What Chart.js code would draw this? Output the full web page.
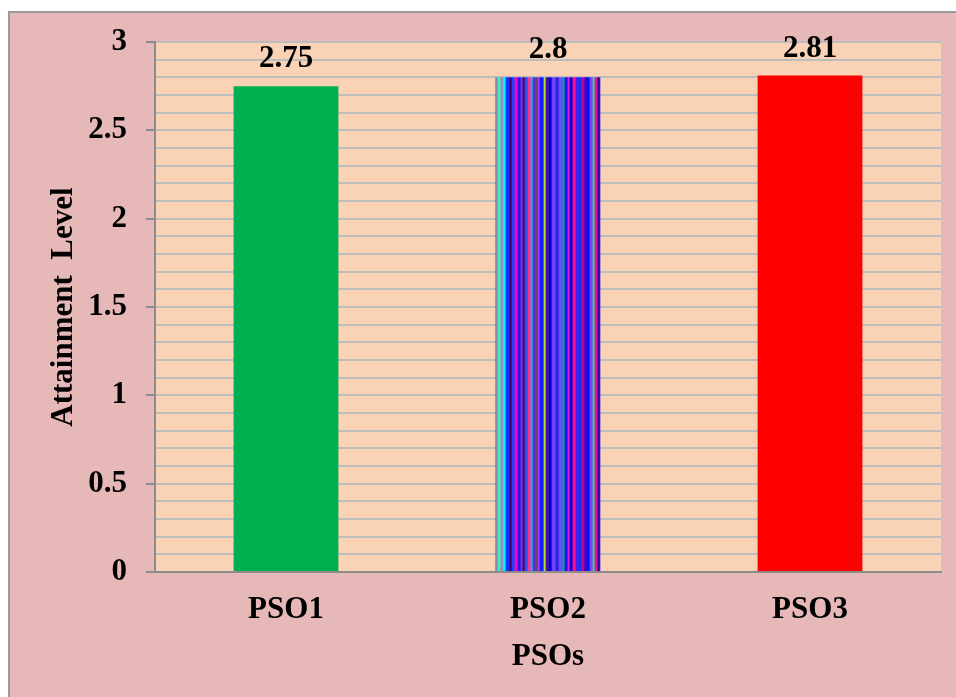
<!DOCTYPE html>
<html>
<head>
<meta charset="utf-8">
<script src="https://cdn.jsdelivr.net/npm/chart.js@4.4.1/dist/chart.umd.min.js"></script>
<style>
  html, body { margin: 0; padding: 0; background: #ffffff; }
  #wrap { width: 956px; height: 697px; }
</style>
</head>
<body>
<div id="wrap"><canvas id="c" width="956" height="697"></canvas></div>
<script>
// ---- data ----
const categories = ['PSO1', 'PSO2', 'PSO3'];
const attainment = [2.75, 2.8, 2.81];
const yMin = 0;
const yMax = 3;
const yMinorStep = 0.1;
const yMajorStep = 0.5;
const xTitle = 'PSOs';
const yTitle = 'Attainment  Level';

// ---- styles ----
const FONT = "'Liberation Serif', 'Times New Roman', serif";
const FSIZE = 31;
const stripeColors = [
  ['#9080c0',2],['#40f0a0',3],['#e060c0',2],['#00f0ff',3],['#1030ff',4],['#400060',2],
  ['#2040ff',3],['#ff00c0',3],['#1818e8',3],['#8030ff',2],['#600030',2],['#2050ff',3],
  ['#ff3090',3],['#20b0f0',2],['#6030d0',3],['#505060',2],['#b030ff',2],['#1020ff',4],
  ['#b0e030',2],['#5010a0',3],['#0000d0',3],['#7040ff',4],['#3020e0',3],['#6050f0',4],
  ['#00a0a0',2],['#2010ff',3],['#e020c0',2],['#1000e0',3],['#ff1080',3],['#4020f0',3],
  ['#1030ff',3],['#c01080',2],['#5000c0',3],['#0010ff',3],['#8040ff',3],['#20e080',2],
  ['#ff00a0',3],['#200090',2],['#5030ff',3],['#000050',2]
];
function makeStripes() {
  const w = stripeColors.reduce((s, c) => s + c[1], 0);
  const cv = document.createElement('canvas');
  cv.width = w; cv.height = 4;
  const cx = cv.getContext('2d');
  let x = 0;
  stripeColors.forEach(([col, sw]) => { cx.fillStyle = col; cx.fillRect(x, 0, sw, 4); x += sw; });
  return document.getElementById('c').getContext('2d').createPattern(cv, 'repeat');
}
const stripePattern = makeStripes();
const barColors = ['#00B050', stripePattern, '#FF0000'];

const isMajor = v => Math.abs(v / yMajorStep - Math.round(v / yMajorStep)) < 1e-6;

const bgPlugin = {
  id: 'bg',
  beforeDraw(chart) {
    const {ctx, width, height, chartArea: a} = chart;
    ctx.save();
    ctx.fillStyle = '#ffffff';
    ctx.fillRect(0, 0, width, height);
    ctx.fillStyle = '#E6B9B8';
    ctx.fillRect(8, 11, width - 8, height - 11);
    ctx.strokeStyle = '#9a9a9a';
    ctx.lineWidth = 2;
    ctx.beginPath();
    ctx.moveTo(9, height); ctx.lineTo(9, 12); ctx.lineTo(width, 12);
    ctx.stroke();
    ctx.fillStyle = '#FAD2B6';
    ctx.fillRect(a.left, a.top, a.right - a.left, a.bottom - a.top);
    ctx.restore();
  },
  beforeDatasetsDraw(chart) {
    const el = chart.getDatasetMeta(0).data[1];
    if (el && stripePattern.setTransform) {
      stripePattern.setTransform(new DOMMatrix().translate(el.x - el.width / 2, 0));
    }
  }
};

const valueLabels = {
  id: 'valueLabels',
  afterDatasetsDraw(chart) {
    const {ctx} = chart;
    const meta = chart.getDatasetMeta(0);
    ctx.save();
    ctx.font = 'bold ' + FSIZE + 'px ' + FONT;
    ctx.fillStyle = '#000000';
    ctx.textAlign = 'center';
    ctx.textBaseline = 'alphabetic';
    meta.data.forEach((el, i) => {
      ctx.fillText(String(attainment[i]), el.x, el.y - 19);
    });
    ctx.restore();
  }
};

new Chart(document.getElementById('c'), {
  type: 'bar',
  data: {
    labels: categories,
    datasets: [{
      data: attainment,
      backgroundColor: barColors,
      borderWidth: 0,
      barPercentage: 0.4,
      categoryPercentage: 1.0
    }]
  },
  options: {
    responsive: false,
    devicePixelRatio: 1,
    animation: false,
    layout: { padding: { left: 0, top: 42, right: 15, bottom: 0 } },
    plugins: { legend: { display: false }, tooltip: { enabled: false } },
    scales: {
      x: {
        grid: { display: false, drawTicks: false },
        border: { display: true, color: '#8c8c8c', width: 2 },
        ticks: { color: '#000', padding: 19, font: { family: FONT, size: FSIZE, weight: 'bold' } },
        title: { display: true, text: xTitle, color: '#000',
                 font: { family: FONT, size: FSIZE, weight: 'bold' }, padding: { top: 0, bottom: 21 } },
        afterFit(s) { s.height = 125; }
      },
      y: {
        min: yMin, max: yMax,
        grid: {
          color: ctx => (ctx.tick && Math.abs(ctx.tick.value) < 1e-9) ? 'rgba(0,0,0,0)' : '#BDBDBD',
          lineWidth: 2,
          drawTicks: true,
          tickLength: 9,
          tickColor: ctx => (ctx.tick && isMajor(ctx.tick.value)) ? '#8c8c8c' : 'rgba(0,0,0,0)',
          tickWidth: 2
        },
        border: { display: true, color: '#8c8c8c', width: 2 },
        ticks: {
          stepSize: yMinorStep,
          autoSkip: false,
          padding: 19,
          color: '#000',
          font: { family: FONT, size: FSIZE, weight: 'bold' },
          callback: v => isMajor(v) ? String(Math.round(v * 10) / 10) : ''
        },
        title: { display: true, text: yTitle, color: '#000',
                 font: { family: FONT, size: FSIZE, weight: 'bold' }, padding: { top: 45, bottom: 0 } },
        afterFit(s) { s.width = 155; }
      }
    }
  },
  plugins: [bgPlugin, valueLabels]
});
</script>
</body>
</html>
